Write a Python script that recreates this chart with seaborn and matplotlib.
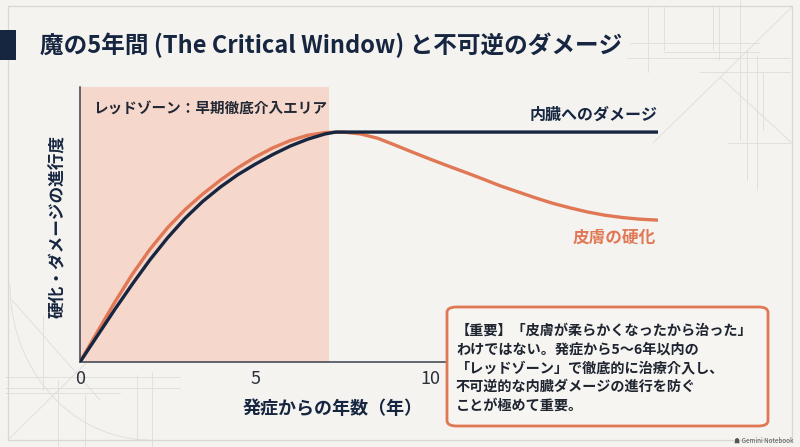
import numpy as np
import pandas as pd
import seaborn as sns
import matplotlib.pyplot as plt
from matplotlib.patches import FancyBboxPatch, Rectangle
from matplotlib.lines import Line2D

# values (years since onset, progress 0-100)
organ_x = [0, 0.5, 1.0, 1.5, 2.0, 2.5, 3.0, 3.5, 4.0, 4.5, 5.0, 5.5, 6.0, 6.5, 7.0, 7.3,
           8.0, 10.0, 12.0, 14.0, 16.5]
organ_y = [0, 11.5, 23.0, 34.0, 44.5, 54.0, 62.5, 69.8, 76.0, 81.4, 86.0, 90.2, 93.9, 96.9, 99.2, 100,
           100, 100, 100, 100, 100]

skin_x = [0, 0.5, 1.0, 1.5, 2.0, 2.5, 3.0, 3.5, 4.0, 4.5, 5.0, 5.5, 6.0, 6.5, 7.0, 7.5,
          8.0, 8.5, 9.0, 9.5, 10.0, 10.5, 11.0, 11.5, 12.0, 12.5, 13.0, 13.5, 14.0, 14.5,
          15.0, 15.5, 16.0, 16.5]
skin_y = [0, 13.2, 26.2, 38.3, 49.1, 58.4, 66.3, 73.0, 79.0, 84.4, 89.1, 93.1, 96.3, 98.6, 99.8, 100,
          99.2, 97.3, 94.3, 91.2, 88.2, 85.3, 82.5, 79.6, 76.6, 74.0, 71.4, 69.0, 67.0, 65.2,
          63.8, 62.8, 62.1, 61.7]

red_zone = [0, 7.1]
x_ticks = [0, 5, 10]

title = '魔の5年間 (The Critical Window) と不可逆のダメージ'
zone_label = 'レッドゾーン：早期徹底介入エリア'
organ_label = '内臓へのダメージ'
skin_label = '皮膚の硬化'
x_label = '発症からの年数（年）'
y_label = '硬化・ダメージの進行度'
note = ('【重要】「皮膚が柔らかくなったから治った」\n'
        'わけではない。発症から5〜6年以内の\n'
        '「レッドゾーン」で徹底的に治療介入し、\n'
        '不可逆的な内臓ダメージの進行を防ぐ\n'
        'ことが極めて重要。')

navy = '#172640'
orange = '#E07856'
pink = '#F6D7CC'
bg = '#F4F3EF'
faint = '#DEDDD8'

sns.set_theme(style='white')
plt.rcParams['font.family'] = ['Noto Sans CJK JP', 'DejaVu Sans']

df_organ = pd.DataFrame({'year': organ_x, 'value': organ_y})
df_skin = pd.DataFrame({'year': skin_x, 'value': skin_y})

fig = plt.figure(figsize=(8, 4.47), dpi=100, facecolor=bg)

# faint decorative lines (figure pixels, origin top-left)
W, H = 800, 447
def fline(x0, y0, x1, y1):
    fig.add_artist(Line2D([x0 / W, x1 / W], [1 - y0 / H, 1 - y1 / H],
                          color=faint, lw=0.6, zorder=0))

for xv, y0, y1 in [(648, 7, 72), (664, 7, 50), (713, 7, 50), (719, 7, 60),
                   (740, 0, 140), (747, 50, 180), (757, 55, 190), (763, 73, 130)]:
    fline(xv, y0, xv, y1)
for yv, x0, x1 in [(43, 630, 760), (52, 663, 760), (58, 627, 790), (72, 700, 790), (143, 728, 790)]:
    fline(x0, yv, x1, yv)
fline(792, 7, 653, 143)
fline(720, 77, 792, 143)
for xv, y0, y1 in [(43, 315, 390), (58, 380, 447), (85, 395, 447), (137, 375, 440), (152, 372, 447)]:
    fline(xv, y0, xv, y1)
for yv, x0, x1 in [(377, 5, 180), (388, 5, 180), (393, 5, 120)]:
    fline(x0, yv, x1, yv)
fline(8, 440, 155, 295)
fline(12, 300, 100, 400)
t = np.linspace(0, np.pi / 2, 40)
fig.add_artist(Line2D((10 + 140 * (1 - np.cos(t))) / W, 1 - (285 + 155 * np.sin(t)) / H,
                      color=faint, lw=0.6, zorder=0))

# outer frame and title bar
fig.add_artist(Rectangle((8 / W, 1 - 440 / H), 784 / W, 434 / H, transform=fig.transFigure,
                         fill=False, edgecolor='#D8D7D2', lw=0.9, zorder=0))
fig.add_artist(Rectangle((0, 1 - 60 / H), 16 / W, 30 / H, transform=fig.transFigure,
                         facecolor=navy, edgecolor='none'))
fig.text(40 / W, 1 - 45 / H, title, fontsize=17, fontweight='bold', color=navy,
         va='center', ha='left')

ax = fig.add_axes([80 / W, (H - 362) / H, (658 - 80) / W, (362 - 87) / H])
ax.set_facecolor('none')
ax.axvspan(red_zone[0], red_zone[1], color=pink, lw=0, zorder=0)

sns.lineplot(data=df_skin, x='year', y='value', ax=ax, color=orange, lw=2.4, zorder=3)
sns.lineplot(data=df_organ, x='year', y='value', ax=ax, color=navy, lw=2.4, zorder=4)

ax.set_xlim(0, 16.5)
ax.set_ylim(0, 119.6)
ax.set_xticks(x_ticks)
ax.set_yticks([])
ax.tick_params(axis='x', direction='in', length=7, width=1, color='#555a63',
               labelsize=13, labelcolor='#2A2F3A', pad=6)
for s in ['top', 'right']:
    ax.spines[s].set_visible(False)
for s in ['left', 'bottom']:
    ax.spines[s].set_color('#3A404B')
    ax.spines[s].set_linewidth(1.1)
ax.set_xlabel(x_label, fontsize=13, fontweight='bold', color=navy)
ax.xaxis.set_label_coords((333 - 80) / 578, -(408 - 362) / 275, transform=ax.transAxes)
ax.xaxis.label.set_va('center')
ax.set_ylabel(y_label, fontsize=12, fontweight='bold', color=navy)
ax.yaxis.set_label_coords(-(80 - 58) / 578, (362 - 226) / 275, transform=ax.transAxes)
ax.yaxis.label.set_va('center')

ax.text(0.37, 110, zone_label, fontsize=10.5, fontweight='bold', color='#222833',
        va='center', ha='left')
ax.text(16.5, 107.4, organ_label, fontsize=11.5, fontweight='bold', color=navy,
        va='center', ha='right')
ax.text(16.45, 53.9, skin_label, fontsize=12, fontweight='bold', color=orange,
        va='center', ha='right')

# note box
box = FancyBboxPatch((447 / W, 1 - 426 / H), (768 - 447) / W, (426 - 307) / H,
                     boxstyle='round,pad=0,rounding_size=0.012', transform=fig.transFigure,
                     facecolor='#F6F5F1', edgecolor=orange, lw=2, zorder=5)
fig.add_artist(box)
fig.text(456 / W, 1 - 368 / H, note, fontsize=10.2, fontweight='bold', color='#1E2430',
         va='center', ha='left', linespacing=1.42, zorder=6)

fig.text(794 / W, 1 - 441 / H, '☗ Gemini Notebook', fontsize=4.5, color='#555555',
         ha='right', va='center')

fig.savefig('out.png', dpi=100, facecolor=bg)
